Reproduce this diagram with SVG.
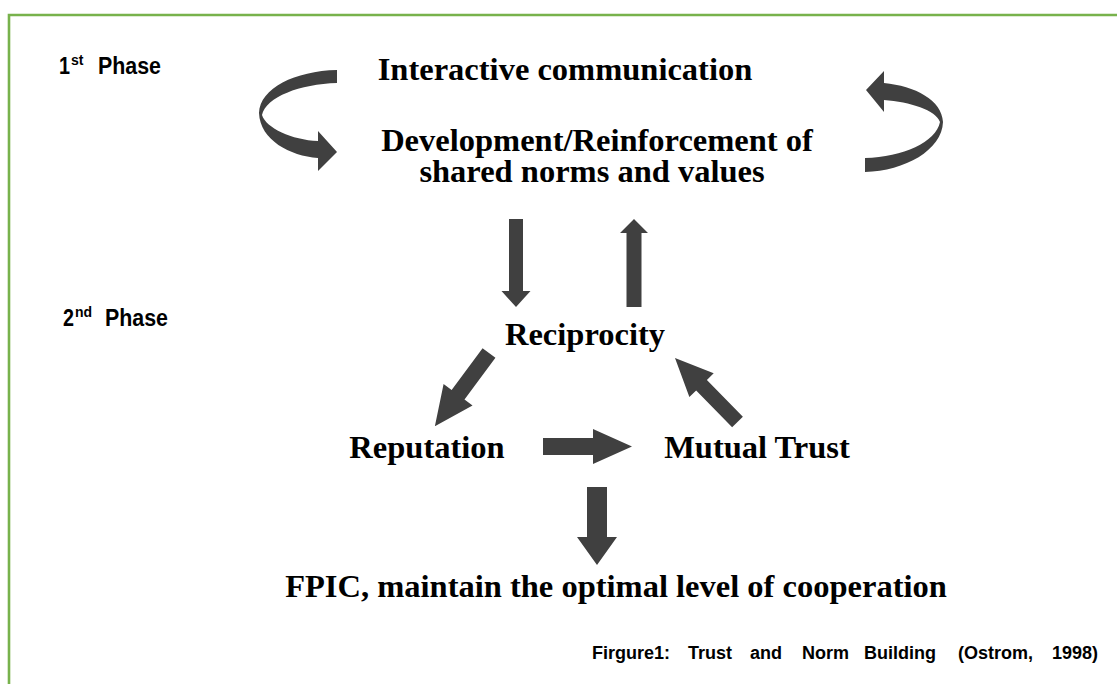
<svg xmlns="http://www.w3.org/2000/svg" width="1117" height="684" viewBox="0 0 1117 684">
  <style>
    .frame { fill: none; stroke: #78b24c; stroke-width: 2.6; }
    .arrow { fill: #404040; }
    .main { font-family: "Liberation Serif", "Times New Roman", serif; font-weight: bold; font-size: 32.5px; fill: #000; text-anchor: middle; }
    .phase { font-family: "Liberation Sans", Arial, sans-serif; font-weight: bold; font-size: 23px; fill: #000; }
    .sup { font-size: 14px; }
    .caption { font-family: "Liberation Sans", Arial, sans-serif; font-weight: bold; font-size: 18px; fill: #000; }
  </style>
  <rect width="1117" height="684" fill="#ffffff"/>

  <!-- open frame: left and top edges only -->
  <path class="frame" d="M9,684 L9,15 L1117,15"/>

  <!-- phase labels -->
  <g id="phase1">
    <text class="phase" x="59" y="74"><tspan textLength="11" lengthAdjust="spacingAndGlyphs">1</tspan><tspan class="sup" x="71" dy="-9">st</tspan><tspan x="98" dy="9" textLength="63" lengthAdjust="spacingAndGlyphs">Phase</tspan></text>
  </g>
  <g id="phase2">
    <text class="phase" x="63" y="326"><tspan textLength="11" lengthAdjust="spacingAndGlyphs">2</tspan><tspan class="sup" x="75" dy="-9">nd</tspan><tspan x="105" dy="9" textLength="63" lengthAdjust="spacingAndGlyphs">Phase</tspan></text>
  </g>

  <!-- nodes -->
  <g id="interactive">
    <text class="main" x="565" y="80">Interactive communication</text>
  </g>
  <g id="norms">
    <text class="main" x="597" y="151" font-size="33">Development/Reinforcement of</text>
    <text class="main" x="592" y="182">shared norms and values</text>
  </g>
  <g id="reciprocity">
    <text class="main" x="585" y="345">Reciprocity</text>
  </g>
  <g id="reputation">
    <text class="main" x="427" y="458" font-size="33">Reputation</text>
  </g>
  <g id="trust">
    <text class="main" x="757" y="458" font-size="33">Mutual Trust</text>
  </g>
  <g id="fpic">
    <text class="main" x="616" y="597" font-size="32">FPIC, maintain the optimal level of cooperation</text>
  </g>

  <!-- connectors -->
  <g id="connectors">
    <!-- circular arrow, left of the first phase -->
    <path class="arrow" d="M337,70 C295,71 260,88 259,113 C260,140 290,156 318,158 L318,171 L337,152 L318,131 L318,141 C292,140 266,128 262,115 C266,97 300,84 337,83 Z"/>
    <!-- circular arrow, right of the first phase -->
    <path class="arrow" d="M865,172 C905,171 942,150 943,122 C942,100 915,86 884,83 L884,71 L866,90 L884,112 L884,100 C910,102 936,110 940,122 C936,142 903,157 865,158 Z"/>
    <!-- norms to reciprocity -->
    <polygon class="arrow" transform="translate(516,219) rotate(90)" points="0,-7 72,-7 72,-14.5 88,0 72,14.5 72,7 0,7"/>
    <!-- reciprocity to norms -->
    <polygon class="arrow" transform="translate(634,307) rotate(-90)" points="0,-7.5 74,-7.5 74,-14 88,0 74,14 74,7.5 0,7.5"/>
    <!-- reciprocity to reputation -->
    <polygon class="arrow" transform="translate(489,353) rotate(126.5)" points="0,-8 52,-8 52,-18 91,0 52,18 52,8 0,8"/>
    <!-- reputation to mutual trust -->
    <polygon class="arrow" transform="translate(543,446.5)" points="0,-8.5 50,-8.5 50,-17.5 89,0 50,17.5 50,8.5 0,8.5"/>
    <!-- mutual trust to reciprocity -->
    <polygon class="arrow" transform="translate(737.5,422) rotate(-134.3)" points="0,-7.5 51.5,-7.5 51.5,-17 89.5,0 51.5,17 51.5,7.5 0,7.5"/>
    <!-- down to cooperation -->
    <polygon class="arrow" transform="translate(597,487) rotate(90)" points="0,-10 50,-10 50,-20 78,0 50,20 50,10 0,10"/>
  </g>

  <!-- caption, justified word by word -->
  <g id="caption" class="caption">
    <text x="592" y="659">Firgure1:</text>
    <text x="688" y="659">Trust</text>
    <text x="750" y="659">and</text>
    <text x="802" y="659">Norm</text>
    <text x="864" y="659">Building</text>
    <text x="958" y="659">(Ostrom,</text>
    <text x="1098" y="659" text-anchor="end">1998)</text>
  </g>
</svg>
